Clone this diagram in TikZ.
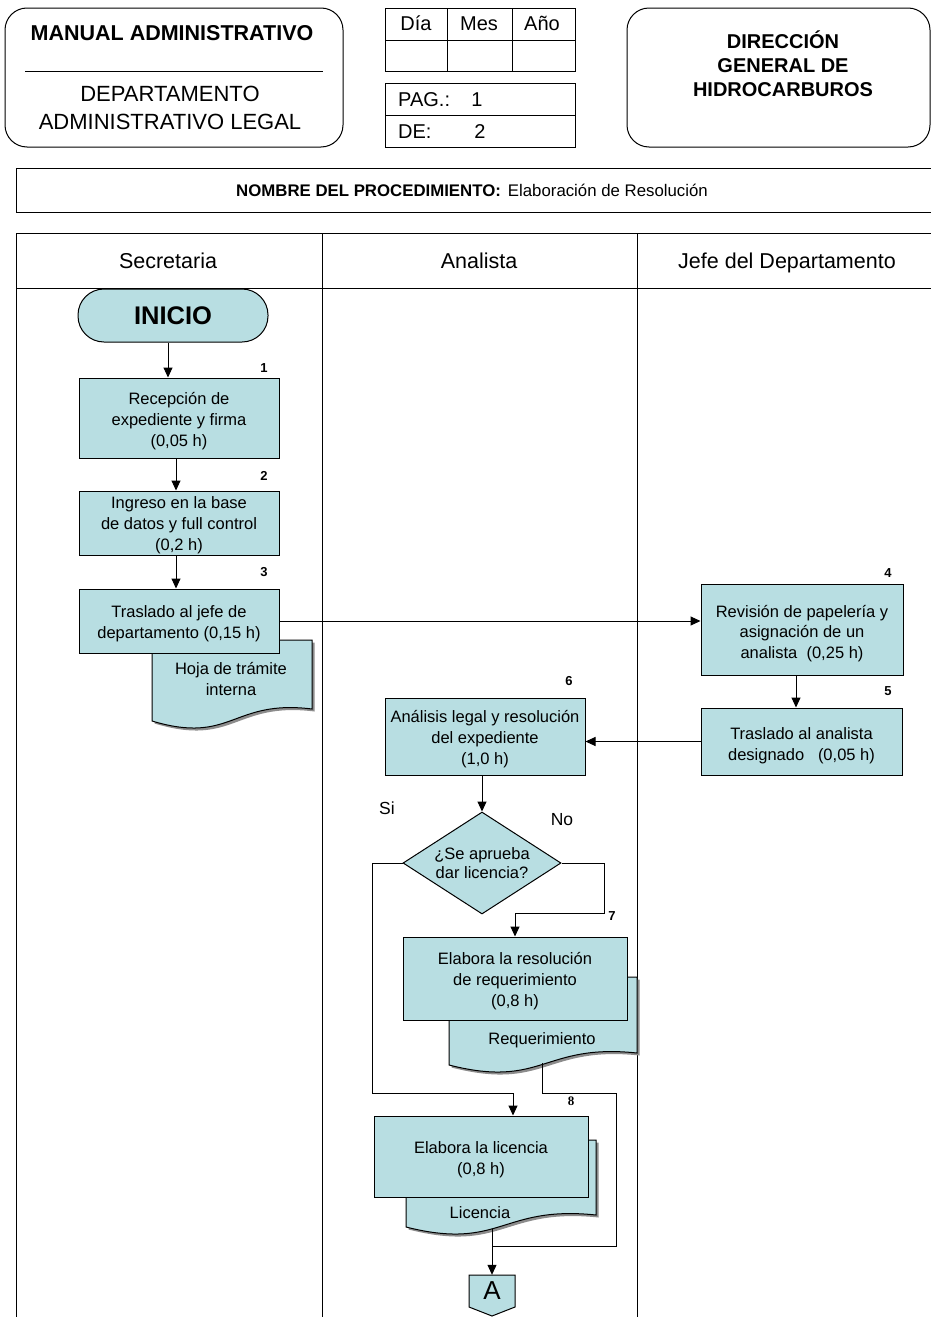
\documentclass[tikz,border=0pt]{standalone}
\usepackage{fontspec}
\setmainfont{Liberation Sans}
\newfontfamily\serifnum{Liberation Serif}
\usetikzlibrary{arrows.meta,shapes.geometric}
\definecolor{boxfill}{RGB}{184,222,226}
\newcommand\fsz[2]{\fontsize{#1}{#2}\selectfont}
% document symbol: x0 x1 ytop ybottom-left ybottom-right xmid
\newcommand\docshape[6]{%
  \fill[black!45] ({#1+2.5},{#3+2.5}) -- ({#2+2.5},{#3+2.5}) -- ({#2+2.5},{#5+2.5})
     .. controls ({#6+2.5},{#4-22+2.5}) and ({#6+2.5},{#4+24+2.5}) .. ({#1+2.5},{#4+2.5}) -- cycle;
  \draw[line width=1pt, fill=boxfill] (#1,#3) -- (#2,#3) -- (#2,#5)
     .. controls (#6,{#4-22}) and (#6,{#4+24}) .. (#1,#4) -- cycle;}

\begin{document}
\begin{tikzpicture}[x=1pt,y=-1pt,
  every node/.style={inner sep=0pt},
  frame/.style={draw=black, line width=1pt},
  arr/.style={line width=1pt, -{Triangle[length=10pt,width=9pt]}},
  conn/.style={line width=1pt},
  proc/.style={draw=black, line width=1pt, fill=boxfill},
  boxtext/.style={align=center, font=\fsz{16.5}{20.8}},
  decision/.style={diamond, aspect=1.55, draw=black, line width=1pt, fill=boxfill, align=center, font=\fsz{16.5}{19.5}},
  stepno/.style={font=\bfseries\fsz{13}{13}},
  lbl/.style={font=\fsz{17.5}{20}},
  doctext/.style={align=center, font=\fsz{16.5}{21}},
  lanehead/.style={font=\fsz{21.5}{24}, anchor=base},
  cell/.style={font=\fsz{20}{22}, anchor=base}
]
\useasboundingbox (0,0) rectangle (931,1317);
\clip (0,0) rectangle (931,1317);
\fill[white] (0,0) rectangle (931,1317);

% ---------- header ----------
\draw[frame, rounded corners=22pt] (5,8) rectangle (343,147);
\draw[frame] (25,71) -- (323,71);
\node[font=\bfseries\fsz{21.5}{24}] (manual) at (172,33) {MANUAL ADMINISTRATIVO};
\node[align=center, font=\fsz{22}{28}] (dept) at (170,107.5) {DEPARTAMENTO\\ADMINISTRATIVO LEGAL};

\draw[frame] (385,8) rectangle (575,71);
\draw[frame] (385,40) -- (575,40);
\draw[frame] (447,8) -- (447,71);
\draw[frame] (512,8) -- (512,71);
\node[cell] (dia) at (416,30.5) {Día};
\node[cell] (mes) at (479,30.5) {Mes};
\node[cell] (anio) at (542,30.5) {Año};

\draw[frame] (385,83) rectangle (575,147);
\draw[frame] (385,115) -- (575,115);
\node[cell, anchor=base west] (pag) at (398,106.5) {PAG.:};
\node[cell] (pagn) at (477,106.5) {1};
\node[cell, anchor=base west] (de) at (398,138.5) {DE:};
\node[cell] (den) at (480,138.5) {2};

\draw[frame, rounded corners=22pt] (627,8) rectangle (930,147);
\node[align=center, font=\bfseries\fsz{20}{24}] (dgh) at (783,63.5) {DIRECCIÓN\\GENERAL DE\\HIDROCARBUROS};

% ---------- procedure name ----------
\draw[frame] (16,168) rectangle (950,212);
\node[font=\fsz{16.8}{20}] (proc) at (472,190) {\textbf{NOMBRE DEL PROCEDIMIENTO:}\hspace{7pt}Elaboración de Resolución};

% ---------- swimlanes ----------
\draw[frame] (16,1340) -- (16,233) -- (950,233);
\draw[frame] (16,288) -- (950,288);
\draw[frame] (322,233) -- (322,1340);
\draw[frame] (637,233) -- (637,1340);
\node[lanehead] (l1) at (168,268.5) {Secretaria};
\node[lanehead] (l2) at (479,268.5) {Analista};
\node[lanehead] (l3) at (787,268.5) {Jefe del Departamento};

% ---------- documents (behind their process boxes) ----------
\docshape{152}{312}{640}{721}{709}{232}
\node[doctext] (hoja) at (231,679) {Hoja de trámite\\interna};
\docshape{449}{637}{977}{1065}{1053}{543}
\node[doctext] (reqdoc) at (542,1040) {Requerimiento};
\docshape{406}{596}{1140}{1227}{1215}{501}
\node[doctext] (licdoc) at (480,1212.5) {Licencia};

% ---------- flow nodes ----------
\node[draw=black, line width=1pt, fill=boxfill, rounded corners=26pt,
      minimum width=190pt, minimum height=53pt, font=\bfseries\fsz{25.5}{28}] (inicio) at (173,315.5) {INICIO};

\node[proc, minimum width=200pt, minimum height=80pt] (b1) at (179,418) {};
\node[boxtext] (b1t) at ([yshift=-3pt]b1.center) {Recepción de\\expediente y firma\\(0,05 h)};
\node[proc, minimum width=200pt, minimum height=64pt] (b2) at (179,523) {};
\node[boxtext] (b2t) at ([yshift=-2.5pt]b2.center) {Ingreso en la base\\de datos y full control\\(0,2 h)};
\node[proc, minimum width=200pt, minimum height=64pt] (b3) at (179,621) {};
\node[boxtext] (b3t) at ([yshift=-2.5pt]b3.center) {Traslado al jefe de\\departamento (0,15 h)};
\node[proc, minimum width=202pt, minimum height=91pt] (b4) at (802,629.5) {};
\node[boxtext] (b4t) at ([yshift=-4pt]b4.center) {Revisión de papelería y\\asignación de un\\analista~~(0,25 h)};
\node[proc, minimum width=201pt, minimum height=67pt] (b5) at (801.5,741.5) {};
\node[boxtext] (b5t) at ([yshift=-4pt]b5.center) {Traslado al analista\\designado~~~(0,05 h)};
\node[proc, minimum width=200pt, minimum height=77pt] (b6) at (485,736.5) {};
\node[boxtext] (b6t) at ([yshift=-2.5pt]b6.center) {Análisis legal y resolución\\del expediente\\(1,0 h)};
\node[decision, minimum width=158pt, minimum height=102pt] (dq) at (482,863) {¿Se aprueba\\dar licencia?};
\node[proc, minimum width=224pt, minimum height=83pt] (b7) at (515,978.5) {};
\node[boxtext] (b7t) at ([yshift=-2.5pt]b7.center) {Elabora la resolución\\de requerimiento\\(0,8 h)};
\node[proc, minimum width=214pt, minimum height=81pt] (b8) at (481,1156.5) {};
\node[boxtext] (b8t) at ([yshift=-3.5pt]b8.center) {Elabora la licencia\\(0,8 h)};

% off-page connector
\draw[line width=1pt, fill=boxfill] (469,1275) -- (515,1275) -- (515,1307) -- (492,1316) -- (469,1307) -- cycle;
\node[minimum width=46pt, minimum height=32pt, font=\fsz{26}{28}] (offA) at (492,1291) {A};

% step numbers and branch labels
\node[stepno] (n1) at (264,368) {1};
\node[stepno] (n2) at (264,476) {2};
\node[stepno] (n3) at (264,572) {3};
\node[stepno] (n4) at (888,573) {4};
\node[stepno] (n5) at (888,691) {5};
\node[stepno] (n6) at (569,681) {6};
\node[stepno] (n7) at (612,916) {7};
\node[font=\serifnum\bfseries\fsz{13}{13}] (n8) at (571,1101) {8};
\node[lbl] (si) at (387,808) {Si};
\node[lbl] (no) at (562,820) {No};

% ---------- connectors ----------
\coordinate (cNo) at (604,913);
\coordinate (cSi) at (372,1093);
\coordinate (reqbot) at (542,1063);
\coordinate (cR1) at (616,1093);
\coordinate (cR2) at (492,1246);
\coordinate (licbot) at (492,1229);

\draw[arr] ([xshift=-5pt]inicio.south) -- ([xshift=-5pt]inicio.south |- b1.north);
\draw[arr] ([xshift=-3pt]b1.south) -- ([xshift=-3pt]b1.south |- b2.north);
\draw[arr] ([xshift=-3pt]b2.south) -- ([xshift=-3pt]b2.south |- b3.north);
\draw[arr] (b3.east) -- (b3.east -| b4.west);
\draw[arr] ([xshift=-6pt]b4.south) -- ([xshift=-6pt]b4.south |- b5.north);
\draw[arr] (b5.west) -- (b5.west -| b6.east);
\draw[arr] (b6.south -| dq.north) -- (dq.north);
\draw[arr] (dq.east) -| (cNo) -| (b7.north);
\draw[arr] (dq.west) -| (cSi) -| ([xshift=32pt]b8.north);
\draw[conn] (reqbot) |- (cR1) |- (cR2);
\draw[arr] (licbot) -- (offA.north);
\end{tikzpicture}
\end{document}
